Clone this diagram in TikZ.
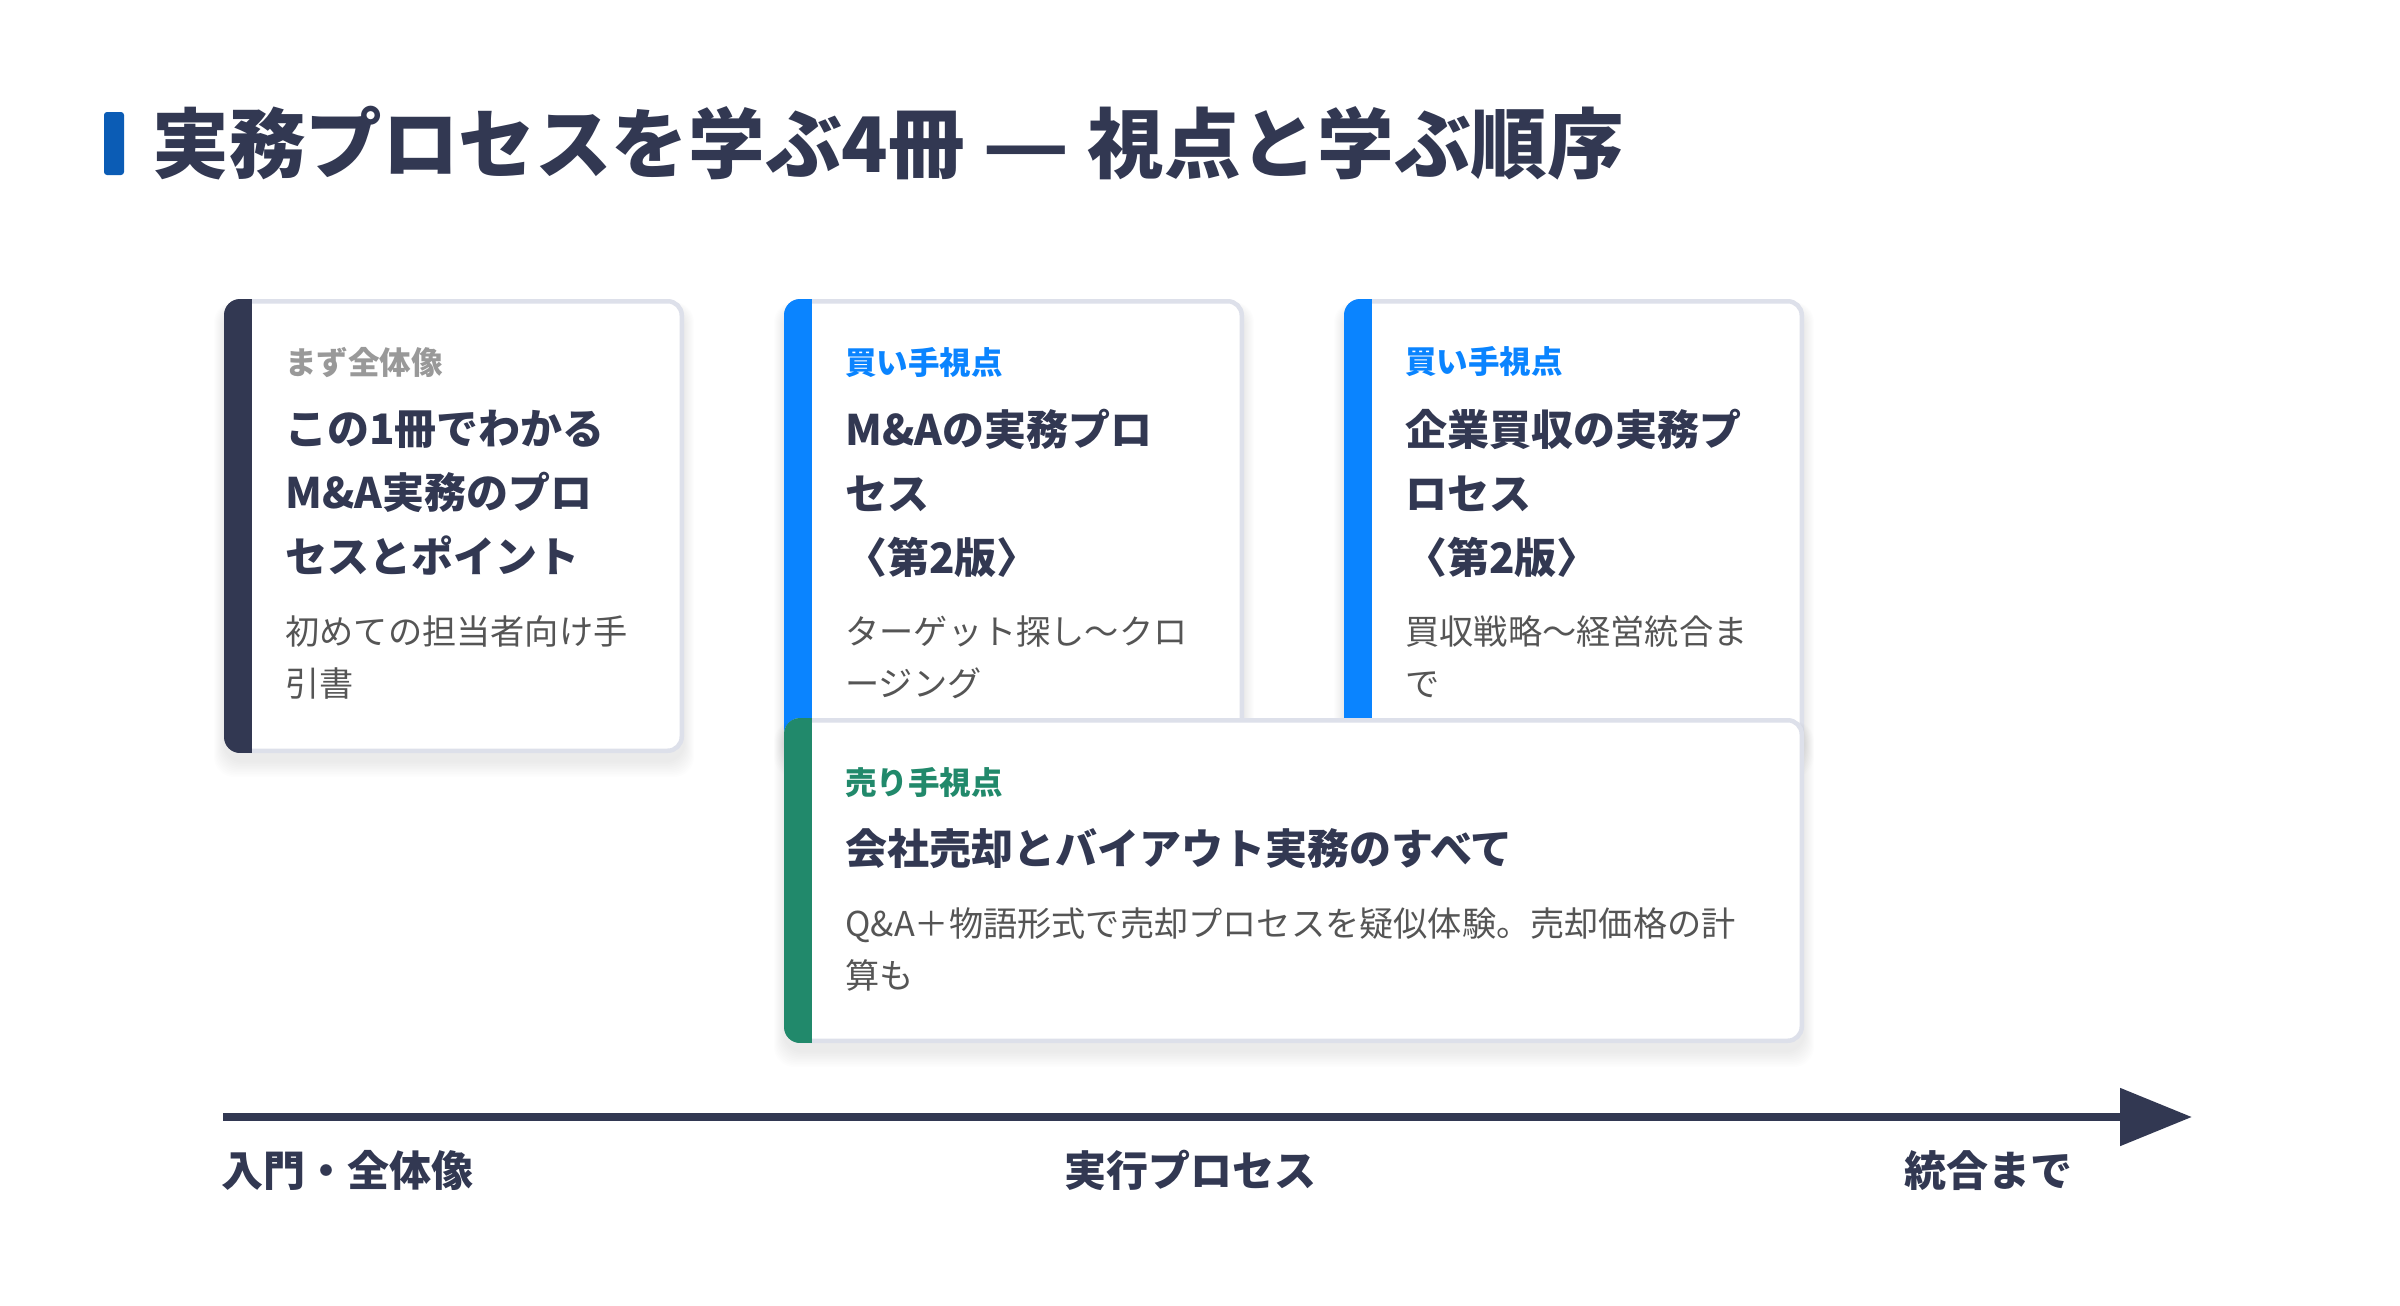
\documentclass[tikz,border=0pt]{standalone}
\usepackage{fontspec}
\usepackage{graphicx}
\setmainfont{Noto Sans CJK JP}
\usetikzlibrary{positioning,calc,arrows.meta}

\definecolor{navy}{HTML}{323852}
\definecolor{buyblue}{HTML}{0A84FF}
\definecolor{sellgreen}{HTML}{21896B}
\definecolor{headblue}{HTML}{0B5CB5}
\definecolor{cardline}{HTML}{DDE0EA}
\definecolor{taggray}{HTML}{999999}
\definecolor{descgray}{HTML}{555555}

\tikzset{
  tag/.style={anchor=north west, inner sep=0pt, font=\fontsize{15.75pt}{18pt}\selectfont\bfseries},
  booktitle/.style={anchor=north west, inner sep=0pt, align=left, text=navy,
    font=\fontsize{21pt}{32pt}\selectfont\bfseries},
  desc/.style={anchor=north west, inner sep=0pt, align=left, text=descgray,
    font=\fontsize{17.1pt}{26pt}\selectfont},
  axislabel/.style={anchor=north west, inner sep=0pt, text=navy,
    font=\fontsize{21pt}{24pt}\selectfont\bfseries},
}

\begin{document}
\begin{tikzpicture}[x=0.5pt, y=-0.5pt]
        \useasboundingbox[fill=white] (0,0) rectangle (2400,1306);

        % heading
        \fill[headblue, rounded corners=1.5pt] (104,112) rectangle (124,175);
        \node[anchor=north west, inner sep=0pt, text=navy, font=\fontsize{38.3pt}{44pt}\selectfont\bfseries]
            (heading) at (152,106) {実務プロセスを学ぶ4冊 \scalebox{1.25}[1]{—} 視点と学ぶ順序};

        % card corners
        \coordinate (c1) at (224, 299);
        \coordinate (c2) at (784, 299);
        \coordinate (c3) at (1344, 299);
        \coordinate (c4) at (784, 718);

        % cards: shadow, body, colour bar
        \foreach \cx/\cy/\cw/\ch/\barcol in {224/299/460/454/navy, 784/299/460/454/buyblue,
                1344/299/460/454/buyblue, 784/718/1020/325/sellgreen}{
            \foreach \s in {1,...,10}
                \fill[black, opacity=0.007, rounded corners=10pt]
                    (\cx-\s, \cy+8-\s*0.5) rectangle (\cx+\cw+\s, \cy+\ch+8+\s*1.6);
            \draw[cardline, line width=2.25pt, fill=white, rounded corners=7pt]
                (\cx+2.25, \cy+2.25) rectangle (\cx+\cw-2.25, \cy+\ch-2.25);
            \begin{scope}
                \clip[rounded corners=8pt] (\cx, \cy) rectangle (\cx+\cw, \cy+\ch);
                \fill[\barcol] (\cx, \cy) rectangle (\cx+28, \cy+\ch);
            \end{scope}
        }

        % card 1
        \node[tag, text=taggray] (tag1) at ($(c1)+(61,48)$) {まず全体像};
        \node[booktitle] (title1) at ($(c1)+(61,111)$) {この1冊でわかる\\M\&A実務のプロ\\セスとポイント};
        \node[desc] (desc1) at ($(c1)+(61,316)$) {初めての担当者向け手\\引書};

        % card 2
        \node[tag, text=buyblue] (tag2) at ($(c2)+(61,48)$) {買い手視点};
        \node[booktitle] (title2) at ($(c2)+(61,110)$) {M\&Aの実務プロ\\セス\\〈第2版〉};
        \node[desc] (desc2) at ($(c2)+(61,316)$) {ターゲット探し〜クロ\\ージング};

        % card 3
        \node[tag, text=buyblue] (tag3) at ($(c3)+(61,47)$) {買い手視点};
        \node[booktitle] (title3) at ($(c3)+(61,110)$) {企業買収の実務プ\\ロセス\\〈第2版〉};
        \node[desc] (desc3) at ($(c3)+(61,316)$) {買収戦略〜経営統合ま\\で};

        % card 4
        \node[tag, text=sellgreen] (tag4) at ($(c4)+(61,49)$) {売り手視点};
        \node[booktitle] (title4) at ($(c4)+(61,110)$) {会社売却とバイアウト実務のすべて};
        \node[desc] (desc4) at ($(c4)+(61,189)$) {Q\&A＋物語形式で売却プロセスを疑似体験。売却価格の計\\算も};

        % axis
        \coordinate (axisstart) at (223, 1117);
        \coordinate (axisend) at (2192, 1117);
        \draw[navy, line width=4.25pt, -{Triangle[length=36pt, width=28pt]}] (axisstart) -- (axisend);

        \node[axislabel] (stage1) at (221, 1150) {入門・全体像};
        \node[axislabel] (stage2) at (1064, 1150) {実行プロセス};
        \node[axislabel] (stage3) at (1904, 1150) {統合まで};

    \end{tikzpicture}
\end{document}
